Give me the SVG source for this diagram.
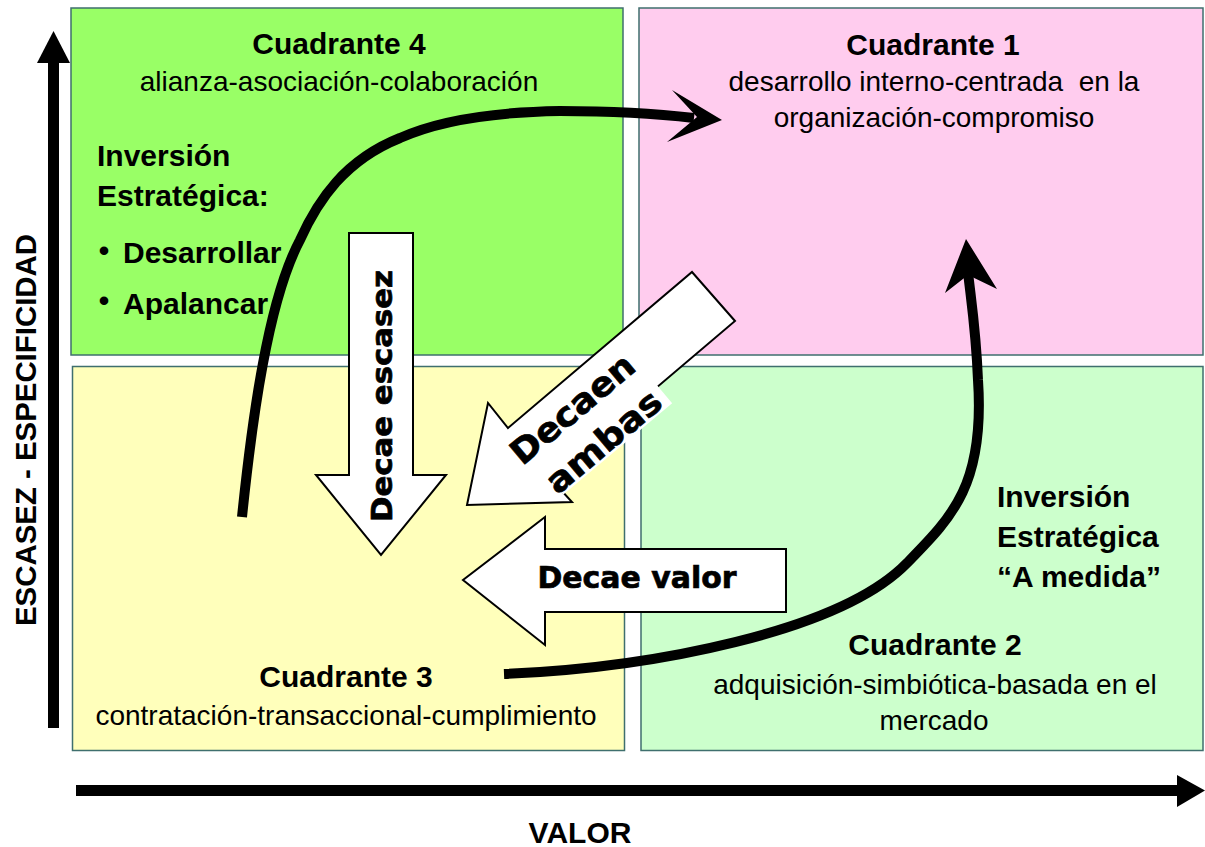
<svg xmlns="http://www.w3.org/2000/svg" width="1205" height="847" viewBox="0 0 1205 847">
  <style>
    .quad { stroke: #3f6f6e; stroke-width: 1.5; }
    .bold { font-family: "Liberation Sans", Arial, sans-serif; font-weight: bold; font-size: 30px; fill: #000; }
    .reg { font-family: "Liberation Sans", Arial, sans-serif; font-size: 28px; fill: #000; }
    .heavy { font-family: "DejaVu Sans", "Liberation Sans", sans-serif; font-weight: bold; fill: #000; stroke: #000; stroke-width: 0.7; }
    .block { fill: #fff; stroke: #000; stroke-width: 2; stroke-linejoin: miter; }
    .curve { fill: none; stroke: #000; stroke-width: 10; }
    .mid { text-anchor: middle; }
  </style>

  <rect width="1205" height="847" fill="#fff"/>

  <!-- Quadrant 4 : top left -->
  <g id="cuadrante-4">
    <rect class="quad" x="71" y="8" width="552" height="347" fill="#99ff66"/>
    <text class="bold mid" x="339" y="54">Cuadrante 4</text>
    <text class="reg mid" x="339" y="91">alianza-asociación-colaboración</text>
    <text class="bold" x="97" y="166">Inversión</text>
    <text class="bold" x="97" y="206">Estratégica:</text>
    <text class="bold mid" x="104" y="261" font-size="36">•</text>
    <text class="bold" x="123" y="263">Desarrollar</text>
    <text class="bold mid" x="104" y="311" font-size="36">•</text>
    <text class="bold" x="123" y="314">Apalancar</text>
  </g>

  <!-- Quadrant 1 : top right -->
  <g id="cuadrante-1">
    <rect class="quad" x="639" y="8" width="564" height="347" fill="#ffccee"/>
    <text class="bold mid" x="933" y="55">Cuadrante 1</text>
    <text class="reg mid" x="934" y="91" style="white-space:pre">desarrollo interno-centrada  en la</text>
    <text class="reg mid" x="934" y="127">organización-compromiso</text>
  </g>

  <!-- Quadrant 3 : bottom left -->
  <g id="cuadrante-3">
    <rect class="quad" x="72.5" y="366.5" width="552" height="384" fill="#ffffbb"/>
    <text class="bold mid" x="346" y="687">Cuadrante 3</text>
    <text class="reg mid" x="346" y="725">contratación-transaccional-cumplimiento</text>
  </g>

  <!-- Quadrant 2 : bottom right -->
  <g id="cuadrante-2">
    <rect class="quad" x="641" y="366.5" width="562" height="384" fill="#ccffcc"/>
    <text class="bold" x="997" y="507">Inversión</text>
    <text class="bold" x="997" y="547">Estratégica</text>
    <text class="bold" x="997" y="587">“A medida”</text>
    <text class="bold mid" x="935" y="655">Cuadrante 2</text>
    <text class="reg mid" x="935" y="694">adquisición-simbiótica-basada en el</text>
    <text class="reg mid" x="934" y="730">mercado</text>
  </g>

  <!-- Axes -->
  <g id="eje-escasez">
    <rect x="48" y="62" width="11" height="666" fill="#000"/>
    <polygon points="37,63 53.5,31 70,63" fill="#000"/>
    <text class="bold mid" transform="translate(36,430) rotate(-90)" textLength="392" lengthAdjust="spacingAndGlyphs">ESCASEZ - ESPECIFICIDAD</text>
  </g>
  <g id="eje-valor">
    <rect x="76" y="785" width="1102" height="11" fill="#000"/>
    <polygon points="1177,775 1205,790.5 1177,807" fill="#000"/>
    <text class="bold mid" x="580" y="843" font-size="29">VALOR</text>
  </g>

  <!-- Block arrows -->
  <g id="decae-escasez">
    <polygon class="block" points="349,233 413,233 413,475 446,475 381,555 316,475 349,475"/>
    <text class="heavy mid" font-size="29" transform="translate(392,396) rotate(-90)" textLength="252" lengthAdjust="spacingAndGlyphs">Decae escasez</text>
  </g>

  <g id="decae-valor">
    <polygon class="block" points="786,549 786,612 545,612 545,645 463,580 545,517 545,549"/>
    <text class="heavy mid" font-size="30" x="637" y="588" textLength="199" lengthAdjust="spacingAndGlyphs">Decae valor</text>
  </g>

  <g id="decaen-ambas">
    <polygon class="block" points="692,272 735,321 550,478 572,502 467,505 488,403 508,428"/>
    <g transform="translate(580,418) rotate(-40)">
      <rect x="-62" y="18" width="142" height="30" fill="#fff"/>
      <text class="heavy mid" font-size="34" x="0" y="0" textLength="151" lengthAdjust="spacingAndGlyphs">Decaen</text>
      <text class="heavy mid" font-size="34" x="3" y="45" textLength="140" lengthAdjust="spacingAndGlyphs">ambas</text>
    </g>
  </g>

  <!-- Curved transition connectors -->
  <g id="connectors">
    <path class="curve" d="M242,517 C252,420 268,300 300,240 C318,200 345,160 400,138 C440,120 500,112 560,111 C620,111 660,114 694,118"/>
    <polygon points="722,120 672,90 697,117 667,142" fill="#000"/>
    <path class="curve" d="M504,674 C650,668 840,632 907,563 C952,517 985,485 978,380 C976,330 971,300 968,272"/>
    <polygon points="966,239 997,289 968,275 945,293" fill="#000"/>
  </g>
</svg>
